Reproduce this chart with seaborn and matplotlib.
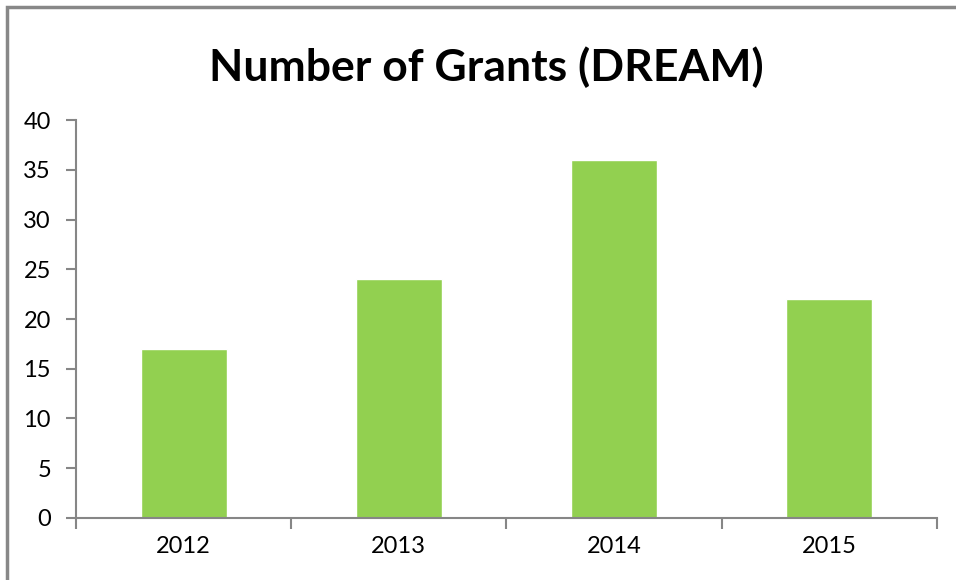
import matplotlib
matplotlib.use('Agg')
import matplotlib.pyplot as plt
import seaborn as sns
import pandas as pd
from matplotlib.patches import Rectangle
from matplotlib.ticker import FixedLocator

years = ['2012', '2013', '2014', '2015']
grants = [17, 24, 36, 22]

df = pd.DataFrame({'year': years, 'grants': grants})

sns.set_style('white')
plt.rcParams['font.family'] = ['Lato', 'DejaVu Sans']
plt.rcParams['text.color'] = 'black'
plt.rcParams['xtick.labelcolor'] = 'black'
plt.rcParams['ytick.labelcolor'] = 'black'

fig = plt.figure(figsize=(9.56, 5.8), dpi=100)
ax = fig.add_axes([0.0795, 0.107, 0.9005, 0.686])

sns.barplot(data=df, x='year', y='grants', color='#92D050', width=0.4,
            saturation=1, ax=ax)

ax.set_ylim(0, 40)
ax.set_yticks(range(0, 41, 5))
ax.set_xlim(-0.5, len(years) - 0.5)
ax.set_xlabel('')
ax.set_ylabel('')

grey = '#868686'
for side in ['top', 'right']:
    ax.spines[side].set_visible(False)
for side in ['left', 'bottom']:
    ax.spines[side].set_color(grey)
    ax.spines[side].set_linewidth(1.5)

ax.tick_params(axis='y', which='major', direction='out', length=7, width=1.5,
               color=grey, labelsize=17, pad=11, left=True)
ax.tick_params(axis='x', which='major', length=0, labelsize=17, pad=13)
ax.xaxis.set_minor_locator(FixedLocator([i - 0.5 for i in range(len(years) + 1)]))
ax.tick_params(axis='x', which='minor', direction='out', length=8, width=1.5,
               color=grey, bottom=True)

fig.suptitle('Number of Grants (DREAM)', fontsize=32, fontweight='bold',
             x=0.509, y=0.92)

# chart frame
fig.add_artist(Rectangle((7 / 956, -0.5), 2, 0.5 + 1 - 7 / 580,
                         transform=fig.transFigure, fill=False,
                         edgecolor='#888888', linewidth=2.5))

fig.savefig('out.png', dpi=100)
